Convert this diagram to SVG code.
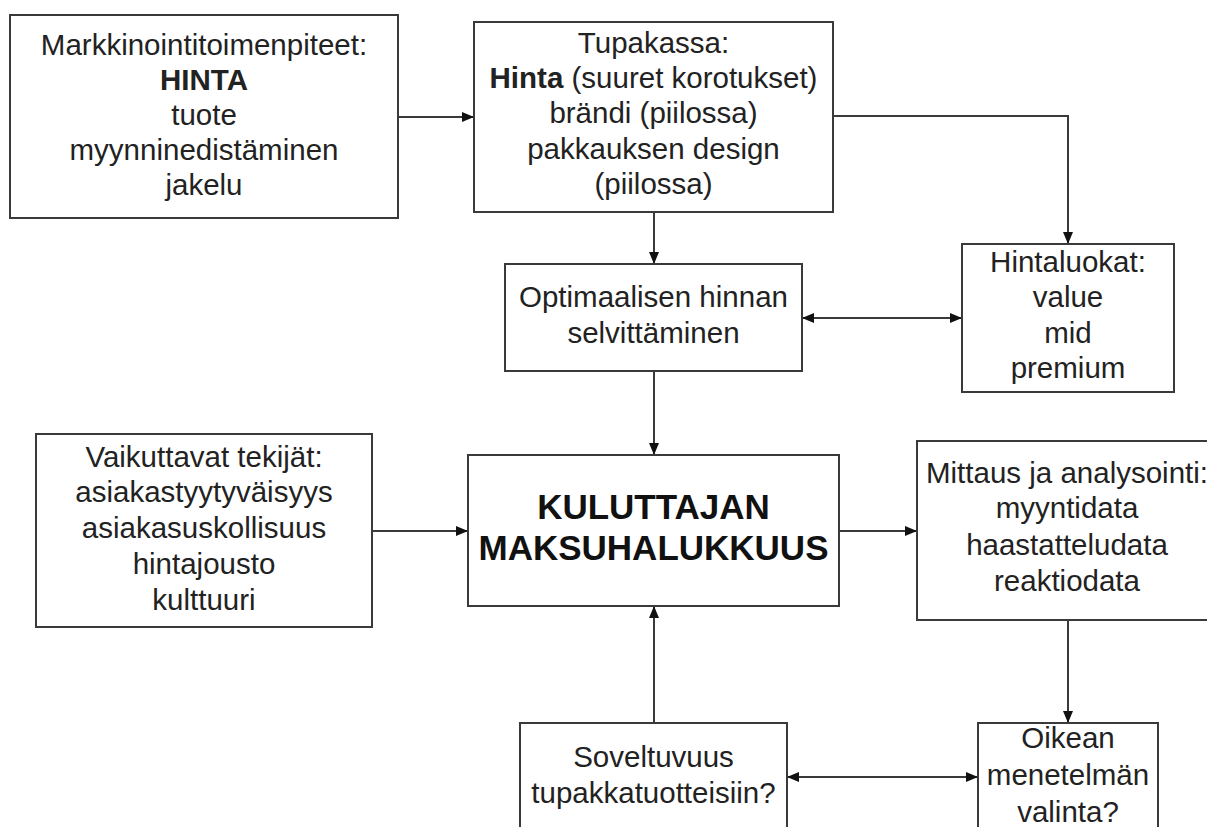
<svg xmlns="http://www.w3.org/2000/svg" width="1207" height="827" viewBox="0 0 1207 827">
<style>
.box{fill:#fff;stroke:#3a3a3a;stroke-width:2}
.t{font-family:"Liberation Sans",Arial,sans-serif;font-size:29.5px;fill:#222;text-anchor:middle}
.b{font-weight:bold}
.big{font-family:"Liberation Sans",Arial,sans-serif;font-size:35px;font-weight:bold;fill:#111;text-anchor:middle}
.c{fill:none;stroke:#3a3a3a;stroke-width:2}
</style>
<defs>
<marker id="ah" viewBox="0 0 12 10" refX="12" refY="5" markerWidth="12" markerHeight="10" markerUnits="userSpaceOnUse" orient="auto-start-reverse">
<path d="M0,0 L12,5 L0,10 z" fill="#111"/>
</marker>
</defs>
<rect width="1207" height="827" fill="#fff"/>
<g id="connectors">
<path class="c" d="M398,117 H474" marker-end="url(#ah)"/>
<path class="c" d="M833,116 H1068 V244" marker-end="url(#ah)"/>
<path class="c" d="M654,212 V264" marker-end="url(#ah)"/>
<path class="c" d="M802,318 H962" marker-start="url(#ah)" marker-end="url(#ah)"/>
<path class="c" d="M654,371 V455" marker-end="url(#ah)"/>
<path class="c" d="M372,531 H468" marker-end="url(#ah)"/>
<path class="c" d="M839,531 H917" marker-end="url(#ah)"/>
<path class="c" d="M1068,620 V723" marker-end="url(#ah)"/>
<path class="c" d="M654,723 V606" marker-end="url(#ah)"/>
<path class="c" d="M787,777 H978" marker-start="url(#ah)" marker-end="url(#ah)"/>
</g>
<g id="markkinointi">
<rect class="box" x="10" y="15" width="388" height="203"/>
<text class="t" x="204" y="55">Markkinointitoimenpiteet:</text>
<text class="t b" x="204" y="90">HINTA</text>
<text class="t" x="204" y="125">tuote</text>
<text class="t" x="204" y="160">myynninedistäminen</text>
<text class="t" x="204" y="195">jakelu</text>
</g>
<g id="tupakassa">
<rect class="box" x="474" y="22" width="359" height="190"/>
<text class="t" x="653.5" y="53">Tupakassa:</text>
<text class="t" x="653.5" y="88"><tspan class="b">Hinta</tspan> (suuret korotukset)</text>
<text class="t" x="653.5" y="123">brändi (piilossa)</text>
<text class="t" x="653.5" y="159">pakkauksen design</text>
<text class="t" x="653.5" y="194">(piilossa)</text>
</g>
<g id="optimaalisen">
<rect class="box" x="505" y="264" width="297" height="107"/>
<text class="t" x="653.5" y="307">Optimaalisen hinnan</text>
<text class="t" x="653.5" y="343">selvittäminen</text>
</g>
<g id="hintaluokat">
<rect class="box" x="962" y="244" width="212" height="148"/>
<text class="t" x="1068" y="272">Hintaluokat:</text>
<text class="t" x="1068" y="307">value</text>
<text class="t" x="1068" y="343">mid</text>
<text class="t" x="1068" y="378">premium</text>
</g>
<g id="vaikuttavat">
<rect class="box" x="36" y="434" width="336" height="193"/>
<text class="t" x="204" y="467">Vaikuttavat tekijät:</text>
<text class="t" x="204" y="502">asiakastyytyväisyys</text>
<text class="t" x="204" y="538">asiakasuskollisuus</text>
<text class="t" x="204" y="574">hintajousto</text>
<text class="t" x="204" y="610">kulttuuri</text>
</g>
<g id="kuluttajan">
<rect class="box" x="468" y="455" width="371" height="151"/>
<text class="big" x="653.5" y="519">KULUTTAJAN</text>
<text class="big" x="653.5" y="560">MAKSUHALUKKUUS</text>
</g>
<g id="mittaus">
<rect class="box" x="917" y="441" width="300" height="179"/>
<text class="t" x="1067" y="483">Mittaus ja analysointi:</text>
<text class="t" x="1067" y="518">myyntidata</text>
<text class="t" x="1067" y="555">haastatteludata</text>
<text class="t" x="1067" y="591">reaktiodata</text>
</g>
<g id="soveltuvuus">
<rect class="box" x="520" y="723" width="267" height="130"/>
<text class="t" x="653.5" y="767">Soveltuvuus</text>
<text class="t" x="653.5" y="803">tupakkatuotteisiin?</text>
</g>
<g id="oikean">
<rect class="box" x="978" y="723" width="180" height="130"/>
<text class="t" x="1068" y="748">Oikean</text>
<text class="t" x="1068" y="785">menetelmän</text>
<text class="t" x="1068" y="822">valinta?</text>
</g>
</svg>
